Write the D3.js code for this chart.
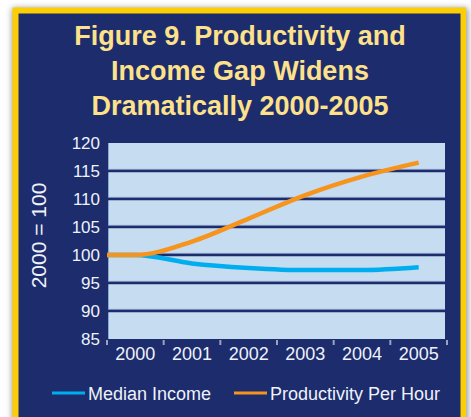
<!DOCTYPE html>
<html>
<head>
<meta charset="utf-8">
<script src="https://cdn.jsdelivr.net/npm/d3@7"></script>
<style>
  html, body { margin: 0; padding: 0; background: #fff; }
  svg { display: block; font-family: "Liberation Sans", Arial, Helvetica, sans-serif; }
</style>
</head>
<body>
<svg id="chart" width="471" height="417"></svg>
<script>
const years = ["2000", "2001", "2002", "2003", "2004", "2005"];
const medianIncome = [100, 98.5, 97.7, 97.3, 97.3, 97.8];
const productivity = [100, 102.4, 106.5, 110.7, 114.0, 116.5];
const yTicks = [85, 90, 95, 100, 105, 110, 115, 120];
const titleLines = ["Figure 9. Productivity and", "Income Gap Widens", "Dramatically 2000-2005"];
const seriesNames = ["Median Income", "Productivity Per Hour"];

const NAVY = "#1d2c6c";
const svg = d3.select("#chart");

// frame: soft shadow, yellow border, navy panel
const defs = svg.append("defs");
const blur = defs.append("filter").attr("id", "shadow").attr("x", "-10%").attr("y", "-10%")
  .attr("width", "120%").attr("height", "120%");
blur.append("feGaussianBlur").attr("stdDeviation", 3);
svg.append("rect").attr("x", 12).attr("y", 8).attr("width", 456).attr("height", 430)
  .attr("fill", "#999").attr("filter", "url(#shadow)");
svg.append("rect").attr("x", 12.5).attr("y", 7.5).attr("width", 453.5).attr("height", 430)
  .attr("fill", "#fcce05");
svg.append("rect").attr("x", 18.5).attr("y", 13.5).attr("width", 442).attr("height", 430)
  .attr("fill", NAVY);

// title
svg.append("g").selectAll("text").data(titleLines).join("text")
  .attr("x", 240).attr("y", (d, i) => 45 + i * 35)
  .attr("text-anchor", "middle")
  .attr("font-size", 27).attr("font-weight", "bold")
  .attr("fill", "#fde18b")
  .text(d => d);

// scales
const x = d3.scaleBand().domain(years).range([107, 447]);
const y = d3.scaleLinear().domain([85, 120]).range([339, 143]);

// plot background
svg.append("rect").attr("x", 108).attr("y", y(120)).attr("width", 337)
  .attr("height", y(85) - y(120)).attr("fill", "#c6dcf0");
svg.append("line").attr("x1", 108.5).attr("x2", 108.5).attr("y1", y(120)).attr("y2", y(85))
  .attr("stroke", "#8aa6cf").attr("stroke-width", 1);

// gridlines
const grid = svg.append("g");
grid.selectAll("line.hi").data(yTicks.slice(1, -1)).join("line").attr("class", "hi")
  .attr("x1", 108).attr("x2", 445)
  .attr("y1", d => y(d) - 1.6).attr("y2", d => y(d) - 1.6)
  .attr("stroke", "#8da4cc").attr("stroke-width", 1);
grid.selectAll("line.g").data(yTicks.slice(1, -1)).join("line").attr("class", "g")
  .attr("x1", 108).attr("x2", 445)
  .attr("y1", d => y(d)).attr("y2", d => y(d))
  .attr("stroke", NAVY).attr("stroke-width", 2.4);

// y axis labels
svg.append("g").selectAll("text").data(yTicks).join("text")
  .attr("x", 100).attr("y", d => y(d) + 6)
  .attr("text-anchor", "end").attr("font-size", 17).attr("fill", "#eef2fa")
  .text(d => d);

svg.append("text")
  .attr("transform", `translate(45.5, 235.5) rotate(-90)`)
  .attr("text-anchor", "middle").attr("font-size", 21).attr("fill", "#eef2fa")
  .text("2000 = 100");

// x axis
const xAxis = svg.append("g").attr("transform", `translate(0, ${y(85)})`)
  .call(d3.axisBottom(x).tickSize(0).tickPadding(0));
xAxis.select(".domain").remove();
xAxis.selectAll("text").attr("font-size", 18).attr("fill", "#eef2fa")
  .attr("font-family", "Liberation Sans, Arial, sans-serif").attr("dy", 21);
const tickEdges = years.map(d => x(d)).concat([x.range()[1]]);
xAxis.selectAll("line.edge").data(tickEdges).join("line").attr("class", "edge")
  .attr("x1", d => d).attr("x2", d => d).attr("y1", 1).attr("y2", 6)
  .attr("stroke", "#9aa3c0").attr("stroke-width", 2);

// lines
const line = d3.line()
  .x(d => d[0]).y(d => y(d[1]))
  .curve(d3.curveMonotoneX);
const toPoints = vals => [[x.range()[0], vals[0]]]
  .concat(vals.map((v, i) => [x(years[i]) + x.bandwidth() / 2, v]));

const series = [
  { name: seriesNames[0], values: medianIncome, color: "#00aeef" },
  { name: seriesNames[1], values: productivity, color: "#f7941d" }
];
svg.append("g").selectAll("path").data(series).join("path")
  .attr("d", d => line(toPoints(d.values)))
  .attr("fill", "none").attr("stroke", d => d.color)
  .attr("stroke-width", 4.5);

// legend
const legend = svg.append("g").selectAll("g").data(series).join("g")
  .attr("transform", (d, i) => `translate(${[52, 234][i]}, 393)`);
legend.append("line").attr("x1", 0).attr("x2", 33).attr("y1", 0).attr("y2", 0)
  .attr("stroke", d => d.color).attr("stroke-width", 3);
legend.append("text").attr("x", 36).attr("y", 6.5)
  .attr("font-size", 18).attr("fill", "#eef2fa")
  .text(d => d.name);
</script>
</body>
</html>
